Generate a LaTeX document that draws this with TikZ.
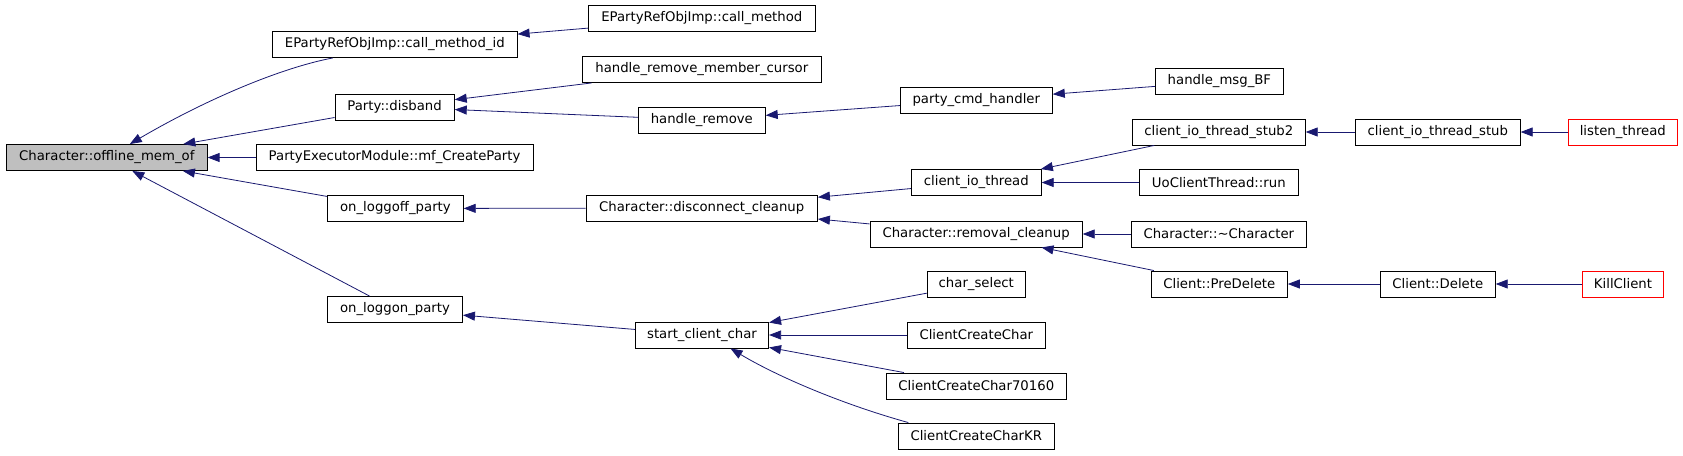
\documentclass[tikz,border=0pt]{standalone}
\usepackage{fontspec}
\setmainfont{DejaVu Sans}
\usetikzlibrary{arrows.meta}
\definecolor{edgeblue}{HTML}{191970}
\definecolor{focusgray}{HTML}{BFBFBF}

\begin{document}
\begin{tikzpicture}[
        x=1pt, y=-1pt,
        func/.style={rectangle, draw=black, fill=white, line width=0.9pt, minimum height=26pt, inner xsep=4pt, inner ysep=0pt, font=\fontsize{13.25}{15}\selectfont},
        current/.style={func, fill=focusgray},
        cut/.style={func, draw=red},
        callarrow/.style={{Triangle[length=12pt, width=9pt]}-, draw=edgeblue, line width=0.8pt}
    ]
        \useasboundingbox (0,0) rectangle (1683,455);

        \node[current, minimum width=200.7pt] (offline) at (106.8,157.5) {Character::offline\_mem\_of};

        \node[func, minimum width=244.6pt] (callid) at (394.8,44.5) {EPartyRefObjImp::call\_method\_id};
        \node[func, minimum width=119.3pt] (disband) at (394.6,107) {Party::disband};
        \node[func, minimum width=277.1pt] (mfcreate) at (394.6,157.5) {PartyExecutorModule::mf\_CreateParty};
        \node[func, minimum width=135.7pt] (loggoff) at (395.4,208.5) {on\_loggoff\_party};
        \node[func, minimum width=135pt] (loggon) at (395,309.5) {on\_loggon\_party};

        \node[func, minimum width=226.7pt] (callmethod) at (701.8,18.5) {EPartyRefObjImp::call\_method};
        \node[func, minimum width=238.6pt] (rmcursor) at (701.8,69.5) {handle\_remove\_member\_cursor};
        \node[func, minimum width=126.9pt] (hremove) at (701.8,120) {handle\_remove};
        \node[func, minimum width=231.5pt] (disconnect) at (701.7,208) {Character::disconnect\_cleanup};
        \node[func, minimum width=133.2pt] (startchar) at (702,335) {start\_client\_char};

        \node[func, minimum width=152pt] (partycmd) at (976.3,100) {party\_cmd\_handler};
        \node[func, minimum width=129.8pt] (iothread) at (976.3,182.5) {client\_io\_thread};
        \node[func, minimum width=212.3pt] (removal) at (976.1,234) {Character::removal\_cleanup};
        \node[func, minimum width=98pt] (charselect) at (976.3,284) {char\_select};
        \node[func, minimum width=138pt] (cchar) at (976.3,335) {ClientCreateChar};
        \node[func, minimum width=180.2pt] (cchar70160) at (976.3,386) {ClientCreateChar70160};
        \node[func, minimum width=155.8pt] (ccharkr) at (976.3,436) {ClientCreateCharKR};

        \node[func, minimum width=127.9pt] (msgbf) at (1219.4,81.5) {handle\_msg\_BF};
        \node[func, minimum width=172.9pt] (stubtwo) at (1218.8,132) {client\_io\_thread\_stub2};
        \node[func, minimum width=158.8pt] (uorun) at (1218.8,182.5) {UoClientThread::run};
        \node[func, minimum width=175.2pt] (dtor) at (1218.8,234) {Character::\textasciitilde Character};
        \node[func, minimum width=136.1pt] (predelete) at (1219.3,284) {Client::PreDelete};

        \node[func, minimum width=164.8pt] (stub) at (1437.8,132) {client\_io\_thread\_stub};
        \node[func, minimum width=114.9pt] (delete) at (1437.8,284) {Client::Delete};

        \node[cut, minimum width=109.3pt] (listen) at (1622.8,132) {listen\_thread};
        \node[cut, minimum width=81.5pt] (kill) at (1623,284) {KillClient};

        \draw[callarrow] ([xshift=23pt]offline.north) .. controls (205,100) and (280,68) .. ([xshift=-62pt]callid.south);
        \draw[callarrow] (offline) -- (disband);
        \draw[callarrow] (offline) -- (mfcreate);
        \draw[callarrow] (offline) -- (loggoff);
        \draw[callarrow] (offline) -- (loggon);

        \draw[callarrow] (callid) -- (callmethod);
        \draw[callarrow] (disband) -- (rmcursor);
        \draw[callarrow] (disband) -- (hremove);
        \draw[callarrow] (hremove) -- (partycmd);
        \draw[callarrow] (partycmd) -- (msgbf);

        \draw[callarrow] (loggoff) -- (disconnect);
        \draw[callarrow] (disconnect) -- (iothread);
        \draw[callarrow] (disconnect) -- (removal);
        \draw[callarrow] (iothread) -- (stubtwo);
        \draw[callarrow] (iothread) -- (uorun);
        \draw[callarrow] (stubtwo) -- (stub);
        \draw[callarrow] (stub) -- (listen);
        \draw[callarrow] (removal) -- (dtor);
        \draw[callarrow] (removal) -- (predelete);
        \draw[callarrow] (predelete) -- (delete);
        \draw[callarrow] (delete) -- (kill);

        \draw[callarrow] (loggon) -- (startchar);
        \draw[callarrow] (startchar) -- (charselect);
        \draw[callarrow] (startchar) -- (cchar);
        \draw[callarrow] (startchar) -- (cchar70160);
        \draw[callarrow] ([xshift=28.5pt]startchar.south) .. controls (780,378) and (845,405) .. ([xshift=-68pt]ccharkr.north);
    \end{tikzpicture}
\end{document}
